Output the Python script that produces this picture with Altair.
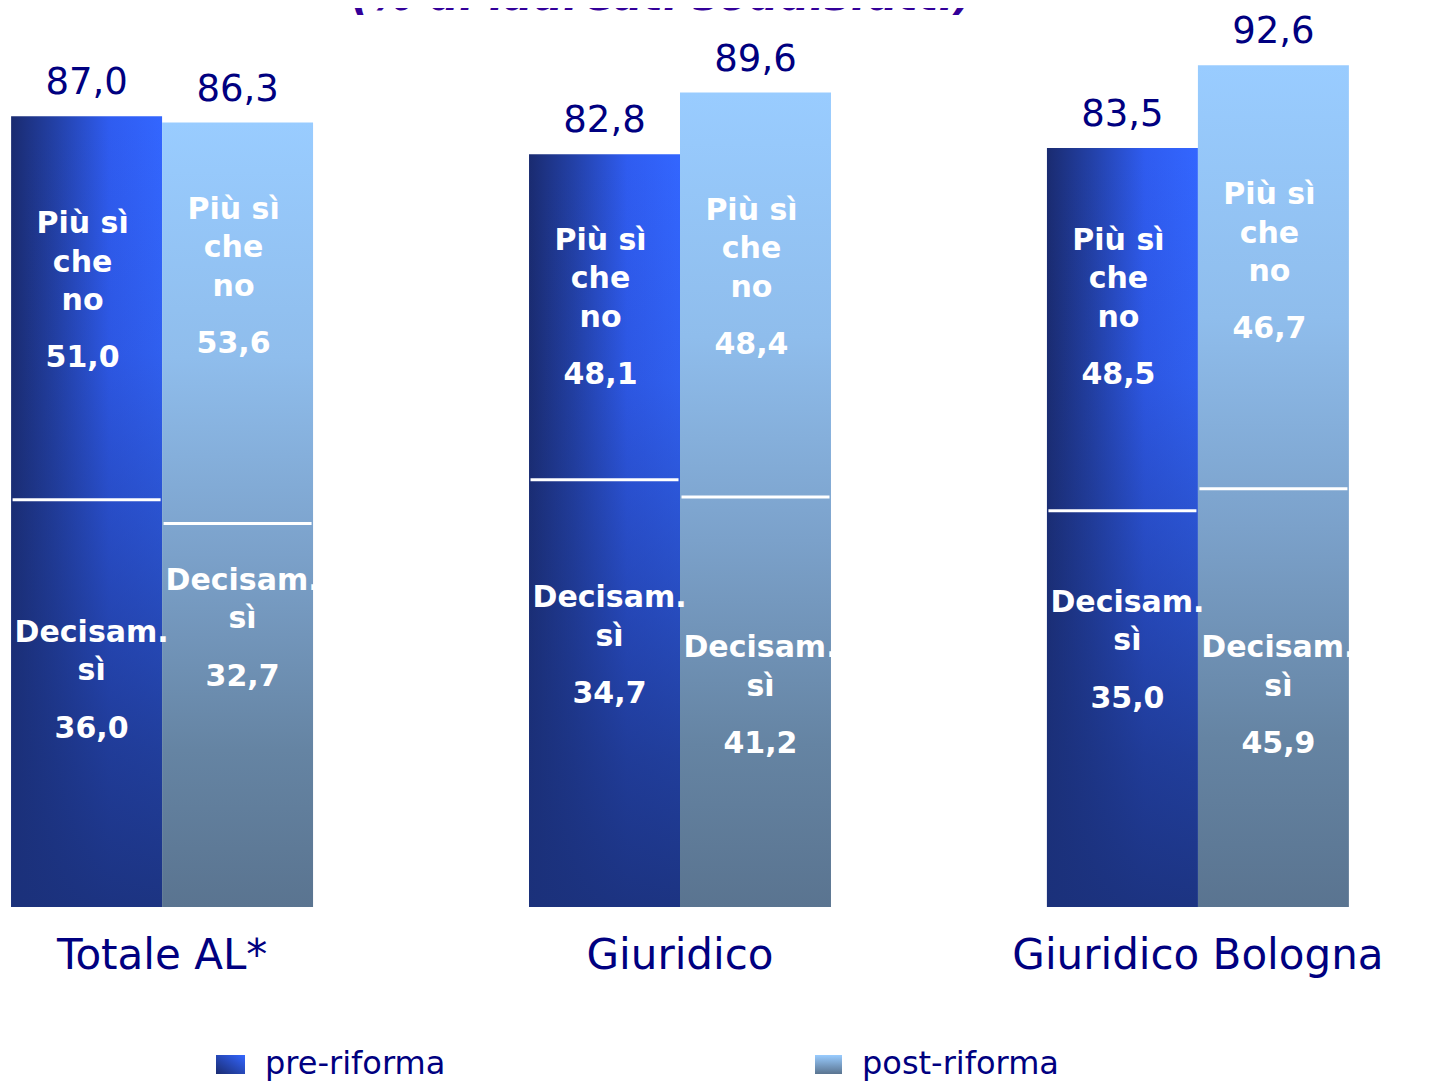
import altair as alt
import pandas as pd

# ---------------- data ----------------
groups = ["Totale AL*", "Giuridico", "Giuridico Bologna"]
periods = ["pre-riforma", "post-riforma"]
decisam_si = [36.0, 32.7, 34.7, 41.2, 35.0, 45.9]      # bottom segment
piu_si_che_no = [51.0, 53.6, 48.1, 48.4, 48.5, 46.7]   # top segment
totals = [87.0, 86.3, 82.8, 89.6, 83.5, 92.6]          # printed above bars
title_text = "(% di laureati soddisfatti)"
top_text = "Più sì\nche\nno"
bottom_text = "Decisam.\nsì"

# annotation anchors as drawn in the reference, in axis units
divider_at = [44.8, 42.2, 47.0, 45.1, 43.6, 46.0]
top_label_at = [74.1, 75.7, 72.3, 75.6, 72.3, 77.3]
bottom_label_at = [29.2, 34.9, 33.0, 27.5, 32.5, 27.5]


def fmt(v):
    return f"{v:.1f}".replace(".", ",")


rows = []
i = 0
for g in groups:
    for p in periods:
        rows.append(dict(
            group=g, period=p,
            decisam=decisam_si[i], piu=piu_si_che_no[i],
            total=decisam_si[i] + piu_si_che_no[i],
            total_lbl=fmt(totals[i]),
            dec_lbl=fmt(decisam_si[i]), piu_lbl=fmt(piu_si_che_no[i]),
            divider=divider_at[i], top_at=top_label_at[i], bot_at=bottom_label_at[i],
            top_text=top_text, bot_text=bottom_text,
        ))
        i += 1
df = pd.DataFrame(rows)
pre = df[df.period == "pre-riforma"]
post = df[df.period == "post-riforma"]

NAVY = "#000080"
FONT = "DejaVu Sans"

X = alt.X("group:N", sort=groups,
          scale=alt.Scale(domain=groups, paddingInner=0.417, paddingOuter=0.006),
          axis=alt.Axis(title=None, labelAngle=0, domain=False, ticks=False, tickSize=0,
                        grid=False, labelFont=FONT, labelFontSize=42, labelColor=NAVY,
                        labelPadding=61, labelBaseline="alphabetic", labelLimit=0))
XO = alt.XOffset("period:N", sort=periods,
                 scale=alt.Scale(domain=periods, paddingInner=0, paddingOuter=0))
YS = alt.Scale(domain=[0, 98.9], nice=False, zero=True)


def Y(field):
    return alt.Y(f"{field}:Q", scale=YS, axis=None)


def stops(lst):
    return [alt.GradientStop(offset=o, color=c) for o, c in lst]


pre_h = alt.LinearGradient(gradient="linear", x1=0, y1=0, x2=1, y2=0, stops=stops([
    (0, "#1a2b70"), (0.3, "#2341a8"), (0.65, "#2f5cf0"), (1, "#3366ff")]))
pre_v = alt.LinearGradient(gradient="linear", x1=0, y1=0, x2=0, y2=1, stops=stops([
    (0, "rgba(27,49,123,0)"), (0.3, "rgba(27,49,123,0.12)"),
    (0.55, "rgba(27,49,123,0.42)"), (0.8, "rgba(27,49,123,0.75)"),
    (1, "rgba(27,49,123,0.95)")]))
post_v = alt.LinearGradient(gradient="linear", x1=0, y1=0, x2=0, y2=1, stops=stops([
    (0, "#99ccff"), (0.3, "#8fbdec"), (0.55, "#7ba1ca"), (0.8, "#6584a3"), (1, "#5a7490")]))
pre_sw = alt.LinearGradient(gradient="linear", x1=0, y1=1, x2=1, y2=0, stops=stops([
    (0, "#1a2b70"), (1, "#3366ff")]))
post_sw = alt.LinearGradient(gradient="linear", x1=0, y1=0, x2=0, y2=1, stops=stops([
    (0, "#99ccff"), (1, "#5a7490")]))

base_enc = dict(x=X, xOffset=XO)

bars_pre = alt.Chart(pre).mark_bar(color=pre_h).encode(y=Y("total"), **base_enc)
bars_pre_shade = alt.Chart(pre).mark_bar(color=pre_v).encode(y=Y("total"), **base_enc)
bars_post = alt.Chart(post).mark_bar(color=post_v).encode(y=Y("total"), **base_enc)

dividers = alt.Chart(df).mark_tick(color="white", thickness=3, size=148, opacity=1,
                                   orient="horizontal").encode(y=Y("divider"), **base_enc)

inner = dict(font=FONT, fontWeight="bold", fontSize=30, color="white",
             baseline="alphabetic", align="center", lineBreak="\n", lineHeight=38.5)
top_lbl = alt.Chart(df).mark_text(dx=-4, **inner).encode(
    y=Y("top_at"), text="top_text:N", **base_enc)
top_val = alt.Chart(df).mark_text(dx=-4, dy=134, **inner).encode(
    y=Y("top_at"), text="piu_lbl:N", **base_enc)
bot_lbl = alt.Chart(df).mark_text(dx=5, **inner).encode(
    y=Y("bot_at"), text="bot_text:N", **base_enc)
bot_val = alt.Chart(df).mark_text(dx=5, dy=96, **inner).encode(
    y=Y("bot_at"), text="dec_lbl:N", **base_enc)

tot_lbl = alt.Chart(df).mark_text(font=FONT, fontSize=37, color=NAVY, baseline="alphabetic",
                                  align="center", dy=-22).encode(
    y=Y("total"), text="total_lbl:N", **base_enc)

title = alt.Chart(pd.DataFrame({"t": [title_text]})).mark_text(
    font=FONT, fontStyle="italic", fontWeight="bold", fontSize=43, color="#330099",
    baseline="alphabetic", align="center").encode(
    x=alt.value(654), y=alt.value(2), text="t:N")

leg_pre_sw = alt.Chart(pd.DataFrame({"t": [periods[0]]})).mark_rect(color=pre_sw).encode(
    x=alt.value(208), x2=alt.value(237), y=alt.value(1047), y2=alt.value(1066))
leg_post_sw = alt.Chart(pd.DataFrame({"t": [periods[1]]})).mark_rect(color=post_sw).encode(
    x=alt.value(807), x2=alt.value(834), y=alt.value(1047), y2=alt.value(1066))
leg_txt = dict(font=FONT, fontSize=32, color=NAVY, baseline="alphabetic", align="left")
leg_pre_t = alt.Chart(pd.DataFrame({"t": [periods[0]]})).mark_text(**leg_txt).encode(
    x=alt.value(257), y=alt.value(1066), text="t:N")
leg_post_t = alt.Chart(pd.DataFrame({"t": [periods[1]]})).mark_text(**leg_txt).encode(
    x=alt.value(854), y=alt.value(1066), text="t:N")

chart = alt.layer(
    bars_pre, bars_pre_shade, bars_post, dividers,
    top_lbl, top_val, bot_lbl, bot_val, tot_lbl,
    title, leg_pre_sw, leg_post_sw, leg_pre_t, leg_post_t,
).properties(
    width=1344, height=899,
    autosize=alt.AutoSizeParams(type="none"),
    padding={"left": 0, "top": 0, "right": 72, "bottom": 176},
    background="white",
).configure_view(stroke=None)

chart.save("out.html", embed_options={"renderer": "svg", "actions": False})
